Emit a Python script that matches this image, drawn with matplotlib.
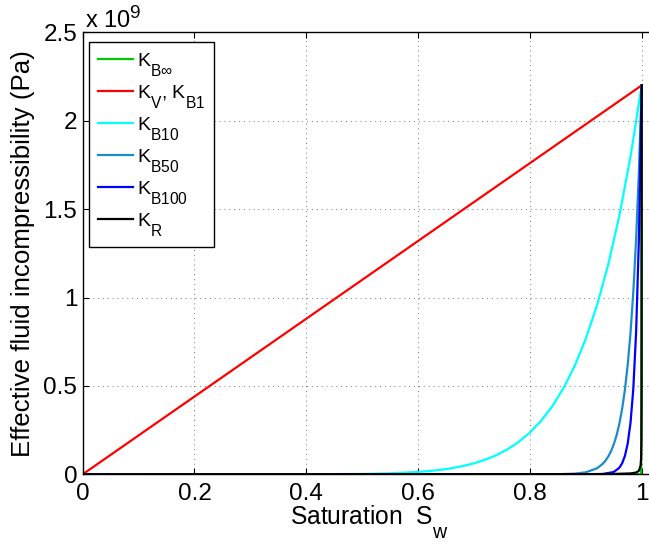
import matplotlib
matplotlib.use("Agg")
import matplotlib.pyplot as plt
import matplotlib._mathtext as _mt

# MATLAB-like subscripts: larger and lowered further
_mt.SHRINK_FACTOR = 0.8
_mt.FontConstantsBase.sub1 = 1.0

plt.rcParams['font.family'] = ['Liberation Sans', 'DejaVu Sans']
plt.rcParams['mathtext.fontset'] = 'custom'
plt.rcParams['mathtext.rm'] = 'Liberation Sans'
plt.rcParams['mathtext.it'] = 'Liberation Sans:italic'
plt.rcParams['mathtext.bf'] = 'Liberation Sans:bold'

# ---- data (values in units of 1e9 Pa) ----
sw_inf = [0.0, 0.999, 1.0]
k_inf = [0.0, 0.0, 2.2]

sw_v = [0.0, 1.0]
k_v = [0.0, 2.2]

sw_b10 = [0.0, 0.2, 0.4, 0.5, 0.55, 0.60, 0.62, 0.64, 0.66, 0.68, 0.70, 0.72, 0.74,
          0.76, 0.78, 0.80, 0.82, 0.84, 0.86, 0.88, 0.90, 0.92, 0.94, 0.96, 0.98, 1.0]
k_b10 = [0.0, 0.0, 0.0002, 0.0021, 0.0056, 0.0133, 0.0185, 0.0254, 0.0345, 0.0465,
         0.0621, 0.0824, 0.1083, 0.1414, 0.1835, 0.2362, 0.3024, 0.3848, 0.4869,
         0.6127, 0.7671, 0.9557, 1.1850, 1.4626, 1.7976, 2.2]

sw_b50 = [0.0, 0.8, 0.85, 0.88, 0.90, 0.92, 0.93, 0.935, 0.94, 0.945, 0.95, 0.955,
          0.96, 0.965, 0.97, 0.975, 0.98, 0.985, 0.99, 0.995, 1.0]
k_b50 = [0.0, 0.0, 0.0007, 0.0037, 0.0113, 0.0340, 0.0584, 0.0764, 0.0997, 0.1301,
         0.1693, 0.2202, 0.2858, 0.3705, 0.4797, 0.6204, 0.8012, 1.0333, 1.3310,
         1.7123, 2.2]

sw_b100 = [0.0, 0.9, 0.93, 0.95, 0.96, 0.965, 0.97, 0.975, 0.98, 0.985, 0.99, 0.995, 1.0]
k_b100 = [0.0, 0.0001, 0.0016, 0.0130, 0.0371, 0.0624, 0.1046, 0.1749, 0.2918,
          0.4853, 0.8053, 1.3327, 2.2]

sw_r = [0.0, 0.9, 0.95, 0.98, 0.99, 0.995, 0.998, 0.999, 0.9995, 0.9998, 0.9999, 1.0]
k_r = [0.0001, 0.001, 0.002, 0.005, 0.010, 0.0198, 0.0489, 0.0956, 0.183, 0.407,
       0.688, 2.2]

labels = [r'$\mathrm{K_{B\infty}}$', r'$\mathrm{K_V}$, $\mathrm{K_{B1}}$', r'$\mathrm{K_{B10}}$',
          r'$\mathrm{K_{B50}}$', r'$\mathrm{K_{B100}}$', r'$\mathrm{K_R}$']
colors = ['#00c800', '#ff0000', '#00ffff', '#1a8ccc', '#0000ff', '#000000']

xticks = [0, 0.2, 0.4, 0.6, 0.8, 1.0]
xticklabels = ['0', '0.2', '0.4', '0.6', '0.8', '1']
yticks = [0, 0.5, 1, 1.5, 2, 2.5]
yticklabels = ['0', '0.5', '1', '1.5', '2', '2.5']

fig = plt.figure(figsize=(6.49, 5.44), dpi=100)
ax = fig.add_axes([0.1274, 0.1281, 0.8829, 0.8125])

series = [(sw_inf, k_inf), (sw_v, k_v), (sw_b10, k_b10), (sw_b50, k_b50),
          (sw_b100, k_b100), (sw_r, k_r)]
for (x, y), c, lab in zip(series, colors, labels):
    ax.plot(x, y, color=c, lw=1.6, label=lab, solid_joinstyle='round')

ax.set_xlim(0, 1.025)
ax.set_ylim(0, 2.5)
ax.set_xticks(xticks)
ax.set_xticklabels(xticklabels)
ax.set_yticks(yticks)
ax.set_yticklabels(yticklabels)
ax.tick_params(direction='in', length=4, width=0.8, top=True, right=True,
               labelsize=17.5, colors='black')
ax.tick_params(axis='x', pad=6)
ax.tick_params(axis='y', pad=4)
ax.grid(True, linestyle=(0, (1, 4)), color='0.45', lw=0.7)
for s in ax.spines.values():
    s.set_linewidth(1.0)

ax.set_xlabel(r'Saturation  $\mathrm{S_w}$', fontsize=17.7, labelpad=-1)
ax.set_ylabel('Effective fluid incompressibility (Pa)', fontsize=18.6, labelpad=6)

fig.text(0.131, 0.948, r'$\mathrm{x\ 10^9}$', fontsize=17, ha='left', va='baseline')

leg = ax.legend(loc='upper left', bbox_to_anchor=(0.0115, 0.978), borderaxespad=0,
                fontsize=14, fancybox=False, framealpha=1, edgecolor='black',
                handlelength=1.8, handletextpad=0.2, labelspacing=0.26,
                borderpad=0.45)
leg.get_frame().set_linewidth(1.0)

fig.savefig('out.png', dpi=100)
